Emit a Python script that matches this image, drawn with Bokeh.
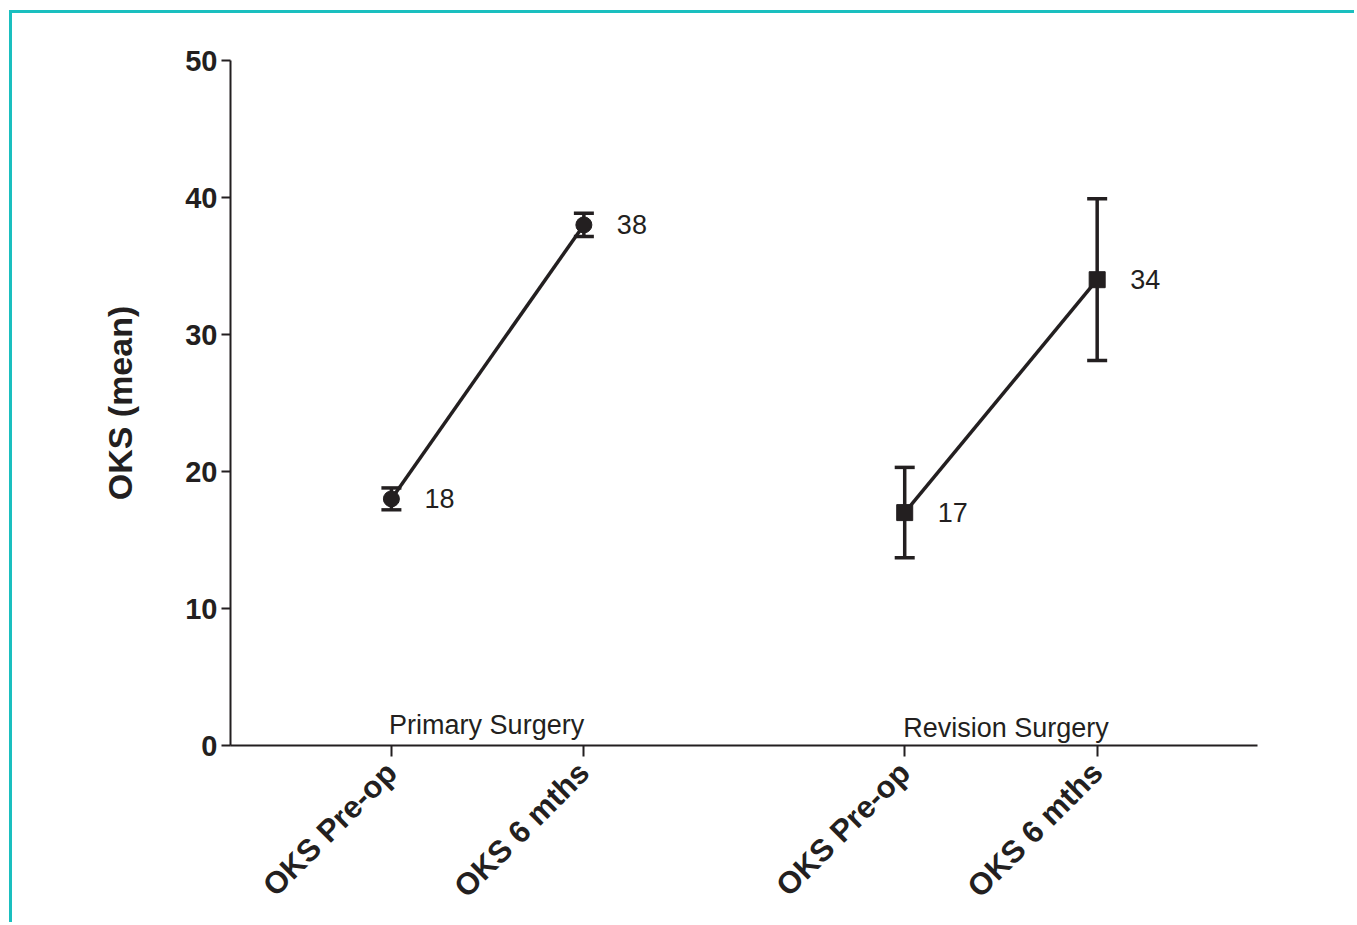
from bokeh.plotting import figure
from bokeh.models import ColumnDataSource, Whisker, Range1d, FixedTicker, TeeHead
from bokeh.embed import file_html
from bokeh.resources import INLINE
from bokeh.core.properties import value
import math

# ---- data ----
groups = ["Primary Surgery", "Revision Surgery"]
timepoints = ["OKS Pre-op", "OKS 6 mths"]
primary_mean = [18, 38]
primary_err = [0.8, 0.85]
revision_mean = [17, 34]
revision_err = [3.3, 5.9]
y_ticks = [0, 10, 20, 30, 40, 50]

# ---- layout ----
group_start = [1.0, 3.667]
INK = "#231f20"
TEAL = "#1abfbf"
FONT = "Liberation Sans"

p = figure(width=1345, height=912, output_backend="svg", toolbar_location=None,
           x_range=Range1d(0.164, 5.5), y_range=Range1d(0, 50),
           min_border_left=218, min_border_right=100, min_border_top=47,
           min_border_bottom=180,
           styles={"margin-left": "9px", "margin-top": "10px",
                   "border-top": f"3px solid {TEAL}",
                   "border-left": f"3px solid {TEAL}"})
p.outline_line_color = None
p.grid.grid_line_color = None
p.background_fill_color = "white"
p.border_fill_color = "white"

xs_all = []
labels_all = []
for gi, (g, means, errs, marker) in enumerate(zip(
        groups, [primary_mean, revision_mean], [primary_err, revision_err],
        ["circle", "square"])):
    xs = [group_start[gi] + k for k in range(len(timepoints))]
    xs_all += xs
    labels_all += timepoints
    src = ColumnDataSource(dict(
        x=xs, y=means,
        lo=[m - e for m, e in zip(means, errs)],
        hi=[m + e for m, e in zip(means, errs)],
        txt=[str(m) for m in means]))
    p.line("x", "y", source=src, line_width=3.5, line_color=INK)
    w = Whisker(base="x", upper="hi", lower="lo", source=src, dimension="height",
                line_width=3.5, line_color=INK,
                upper_head=TeeHead(size=20, line_width=3.5, line_color=INK),
                lower_head=TeeHead(size=20, line_width=3.5, line_color=INK))
    p.add_layout(w)
    p.scatter("x", "y", source=src, marker=marker, size=16,
              fill_color=INK, line_color=INK)
    p.text("x", "y", text="txt", source=src, x_offset=33, y_offset=0,
           text_align="left", text_baseline="middle", text_font=value(FONT),
           text_font_size="27px", text_color=INK)

gsrc = ColumnDataSource(dict(
    x=[s + (len(timepoints) - 1) / 2 for s in group_start],
    y=[0, 0], txt=groups, yo=[-21, -18], xo=[-1, 5]))
p.text("x", "y", text="txt", source=gsrc, x_offset="xo", y_offset="yo",
       text_align="center", text_baseline="alphabetic", text_font=value(FONT),
       text_font_size="27px", text_color=INK)

# axes
xa = p.xaxis[0]
xa.ticker = FixedTicker(ticks=xs_all)
xa.major_label_overrides = {x: l for x, l in zip(xs_all, labels_all)}
xa.major_label_orientation = math.pi / 4
xa.minor_tick_line_color = None
xa.major_tick_out = 11
xa.major_tick_in = 0
xa.major_label_standoff = 11

ya = p.yaxis[0]
ya.ticker = FixedTicker(ticks=y_ticks)
ya.minor_tick_line_color = None
ya.major_tick_out = 9
ya.major_tick_in = 0
ya.major_label_standoff = 4
ya.axis_label = "OKS (mean)"
ya.axis_label_standoff = 43

for ax in (xa, ya):
    ax.axis_line_width = 2
    ax.axis_line_color = INK
    ax.major_tick_line_width = 2
    ax.major_tick_line_color = INK
    ax.major_label_text_font = FONT
    ax.major_label_text_font_style = "bold"
    ax.major_label_text_font_size = "29px"
    ax.major_label_text_color = INK
    ax.axis_label_text_font = FONT
    ax.axis_label_text_font_style = "bold"
    ax.axis_label_text_font_size = "34px"
    ax.axis_label_text_color = INK
xa.major_label_text_font_size = "31px"

open("out.html", "w").write(file_html(p, INLINE))
